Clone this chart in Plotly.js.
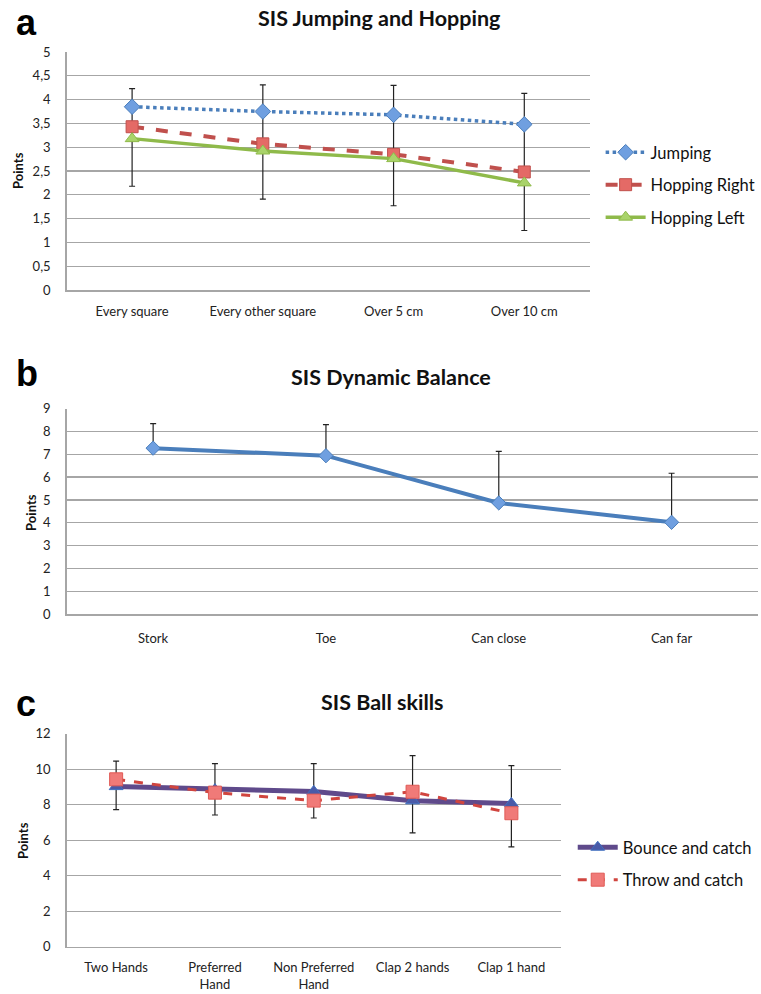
<!DOCTYPE html>
<html>
<head>
<meta charset="utf-8">
<script src="https://cdn.plot.ly/plotly-3.0.1.min.js"></script>
<style>html,body{margin:0;padding:0;background:#fff;}#chart{width:761px;height:994px;}</style>
</head>
<body>
<div id="chart"></div>
<script>
// ---- Panel a: SIS Jumping and Hopping ----
var catsA = ["Every square", "Every other square", "Over 5 cm", "Over 10 cm"];
var jumping = [3.85, 3.75, 3.68, 3.48];
var hoppingRight = [3.43, 3.07, 2.85, 2.48];
var hoppingLeft = [3.18, 2.92, 2.76, 2.25];
var errTopA = [4.23, 4.31, 4.30, 4.13];
var errBotA = [2.18, 1.91, 1.77, 1.25];

// ---- Panel b: SIS Dynamic Balance ----
var catsB = ["Stork", "Toe", "Can close", "Can far"];
var balance = [7.27, 6.94, 4.87, 4.02];
var errUpB = [1.08, 1.36, 2.26, 2.15];

// ---- Panel c: SIS Ball skills ----
var catsC = ["Two Hands", "Preferred<br>Hand", "Non Preferred<br>Hand", "Clap 2 hands", "Clap 1 hand"];
var bounce = [9.02, 8.85, 8.75, 8.22, 8.07];
var throwC = [9.43, 8.68, 8.23, 8.73, 7.52];
var errTopC = [10.46, 10.31, 10.31, 10.76, 10.2];
var errBotC = [7.72, 7.42, 7.25, 6.41, 5.62];

var W = 761, H = 994;
function px(x){ return x / W; }
function py(y){ return 1 - y / H; }

var FONT = "Lato, 'Open Sans', sans-serif";
var gridCol = "#a6a6a6";

var errMid = function(top, bot){ return top.map(function(t,i){ return (t + bot[i]) / 2; }); };
var errHalf = function(top, bot){ return top.map(function(t,i){ return (t - bot[i]) / 2; }); };

var traces = [
  // error bars a
  {x: catsA, y: errMid(errTopA, errBotA), type: "scatter", mode: "markers",
   marker: {size: 0.1, color: "rgba(0,0,0,0)"}, showlegend: false, hoverinfo: "skip",
   error_y: {type: "data", array: errHalf(errTopA, errBotA), visible: true, color: "#222", thickness: 1.2, width: 3},
   xaxis: "x", yaxis: "y"},
  {x: catsA, y: jumping, name: "Jumping", type: "scatter", mode: "lines+markers",
   line: {color: "#4a7ebb", width: 3.5, dash: "dot"},
   marker: {symbol: "diamond", size: 12, color: "#6f9fe0", line: {color: "#4a7ebb", width: 1}},
   xaxis: "x", yaxis: "y", legend: "legend", legendgroup: "a1"},
  {x: catsA, y: hoppingRight, name: "Hopping Right", type: "scatter", mode: "lines+markers",
   line: {color: "#c0504d", width: 4, dash: "dash"},
   marker: {symbol: "square", size: 12, color: "#e46a66", line: {color: "#c0504d", width: 1}},
   xaxis: "x", yaxis: "y", legend: "legend", legendgroup: "a2"},
  {x: catsA, y: hoppingLeft, name: "Hopping Left", type: "scatter", mode: "lines+markers",
   line: {color: "#8fba4a", width: 3.5},
   marker: {symbol: "triangle-up", size: 12, color: "#a9d36a", line: {color: "#8fba4a", width: 1}},
   xaxis: "x", yaxis: "y", legend: "legend", legendgroup: "a3"},

  // panel b
  {x: catsB, y: balance, name: "Dynamic Balance", type: "scatter", mode: "lines+markers",
   line: {color: "#4a7ebb", width: 4},
   marker: {symbol: "diamond", size: 11, color: "#6f9fe0", line: {color: "#4a7ebb", width: 1}},
   error_y: {type: "data", symmetric: false, array: errUpB, arrayminus: [0,0,0,0], visible: true, color: "#222", thickness: 1.2, width: 3},
   showlegend: false, xaxis: "x2", yaxis: "y2"},

  // error bars c
  {x: catsC, y: errMid(errTopC, errBotC), type: "scatter", mode: "markers",
   marker: {size: 0.1, color: "rgba(0,0,0,0)"}, showlegend: false, hoverinfo: "skip",
   error_y: {type: "data", array: errHalf(errTopC, errBotC), visible: true, color: "#222", thickness: 1.2, width: 3},
   xaxis: "x3", yaxis: "y3"},
  {x: catsC, y: bounce, name: "Bounce and catch", type: "scatter", mode: "lines+markers",
   line: {color: "#5f4a8b", width: 5},
   marker: {symbol: "triangle-up", size: 12, color: "#4a5aa8", line: {color: "#3f6fc0", width: 1}},
   xaxis: "x3", yaxis: "y3", legend: "legend2", legendgroup: "c1"},
  {x: catsC, y: throwC, name: "Throw and catch", type: "scatter", mode: "lines+markers",
   line: {color: "#d0453f", width: 3, dash: "dash"},
   marker: {symbol: "square", size: 13, color: "#f07a78", line: {color: "#e05a55", width: 1}},
   xaxis: "x3", yaxis: "y3", legend: "legend2", legendgroup: "c2"}
];

var axFont = {family: FONT, size: 13, color: "#222"};
function yax(domain, range, dtick){
  return {domain: domain, range: range, dtick: dtick, tick0: 0, showgrid: true, gridcolor: gridCol, gridwidth: 1.3,
          zeroline: false, showline: true, linecolor: gridCol, linewidth: 1.5, ticks: "", tickfont: axFont,
          ticklabelstandoff: 12, fixedrange: true};
}
function xax(domain, anchor, n, standoff){
  return {domain: domain, anchor: anchor, type: "category", range: [-0.5, n - 0.5], showgrid: false, zeroline: false, showline: true,
          linecolor: gridCol, linewidth: 1.5, ticks: "", tickfont: axFont, ticklabelstandoff: standoff, fixedrange: true};
}

var layout = {
  width: W, height: H, margin: {l: 0, r: 0, t: 0, b: 0},
  paper_bgcolor: "#fff", plot_bgcolor: "#fff",
  separators: ",.",
  font: {family: FONT, color: "#222"},
  xaxis: xax([px(67), px(592)], "y", catsA.length, 9),
  yaxis: yax([py(290), py(52)], [0, 5], 0.5),
  xaxis2: xax([px(67), 1], "y2", catsB.length, 12),
  yaxis2: Object.assign(yax([py(614), py(408.7)], [0, 9], 1), {anchor: "x2"}),
  xaxis3: xax([px(67), px(563)], "y3", catsC.length, 8),
  yaxis3: Object.assign(yax([py(946.7), py(733.7)], [0, 12], 2), {anchor: "x3"}),
  legend: {x: px(603), y: py(135), xanchor: "left", yanchor: "top", font: {family: FONT, size: 16.5, color: "#111"},
           bgcolor: "rgba(0,0,0,0)", traceorder: "grouped", tracegroupgap: 8, itemwidth: 40},
  legend2: {x: px(575), y: py(830), xanchor: "left", yanchor: "top", font: {family: FONT, size: 16.5, color: "#111"},
           bgcolor: "rgba(0,0,0,0)", traceorder: "grouped", tracegroupgap: 8, itemwidth: 40},
  annotations: [
    {text: "a", x: px(14), y: py(22), xref: "paper", yref: "paper", xanchor: "left", yanchor: "middle", showarrow: false,
     font: {family: "'Liberation Sans', Arial, sans-serif", size: 36, color: "#000", weight: "bold"}},
    {text: "b", x: px(14), y: py(373), xref: "paper", yref: "paper", xanchor: "left", yanchor: "middle", showarrow: false,
     font: {family: "'Liberation Sans', Arial, sans-serif", size: 36, color: "#000", weight: "bold"}},
    {text: "c", x: px(14), y: py(703), xref: "paper", yref: "paper", xanchor: "left", yanchor: "middle", showarrow: false,
     font: {family: "'Liberation Sans', Arial, sans-serif", size: 36, color: "#000", weight: "bold"}},
    {text: "<b>SIS Jumping and Hopping</b>", x: px(381), y: py(18), xref: "paper", yref: "paper", xanchor: "center", yanchor: "middle", showarrow: false,
     font: {family: FONT, size: 21.5, color: "#111"}},
    {text: "<b>SIS Dynamic Balance</b>", x: px(393), y: py(377), xref: "paper", yref: "paper", xanchor: "center", yanchor: "middle", showarrow: false,
     font: {family: FONT, size: 21.5, color: "#111"}},
    {text: "<b>SIS Ball skills</b>", x: px(384), y: py(702), xref: "paper", yref: "paper", xanchor: "center", yanchor: "middle", showarrow: false,
     font: {family: FONT, size: 21.5, color: "#111"}},
    {text: "<b>Points</b>", x: px(18), y: py(170), xref: "paper", yref: "paper", xanchor: "center", yanchor: "middle", showarrow: false, textangle: -90,
     font: {family: FONT, size: 13, color: "#111"}},
    {text: "<b>Points</b>", x: px(31), y: py(512), xref: "paper", yref: "paper", xanchor: "center", yanchor: "middle", showarrow: false, textangle: -90,
     font: {family: FONT, size: 13, color: "#111"}},
    {text: "<b>Points</b>", x: px(23), y: py(840), xref: "paper", yref: "paper", xanchor: "center", yanchor: "middle", showarrow: false, textangle: -90,
     font: {family: FONT, size: 13, color: "#111"}}
  ]
};

Plotly.newPlot("chart", traces, layout, {displayModeBar: false, staticPlot: true});
</script>
</body>
</html>
